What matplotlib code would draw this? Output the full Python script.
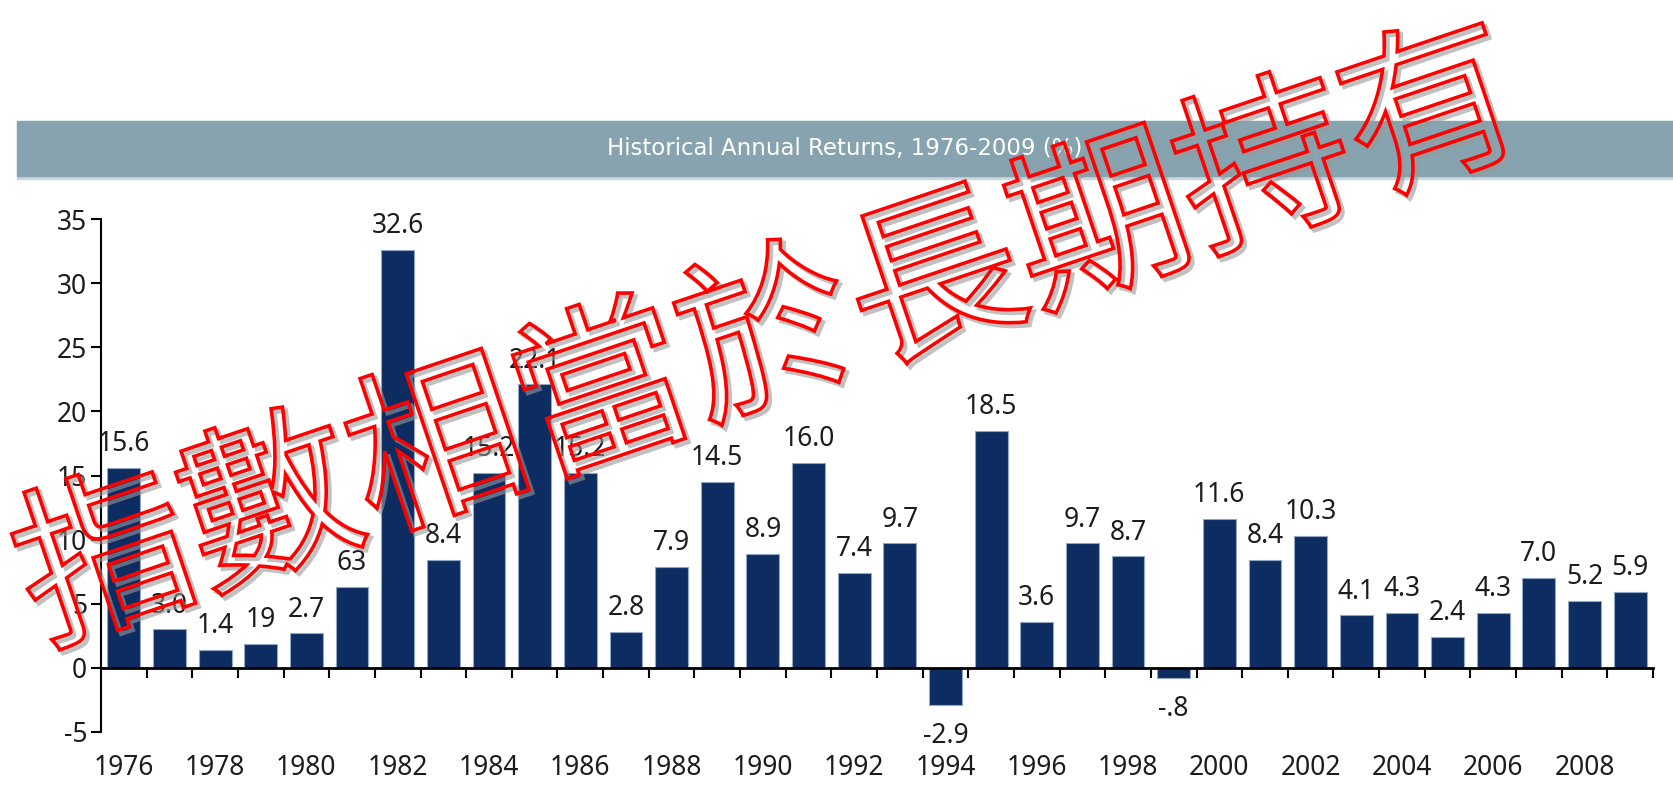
import numpy as np
import matplotlib
matplotlib.use("Agg")
import matplotlib.pyplot as plt
import matplotlib.patheffects as pe
from matplotlib.patches import Rectangle

plt.rcParams['axes.unicode_minus'] = False
plt.rcParams['font.family'] = ['Noto Sans', 'DejaVu Sans']

# data
years = list(range(1976, 2010))
returns = [15.6, 3.0, 1.4, 1.9, 2.7, 6.3, 32.6, 8.4, 15.2, 22.1,
           15.2, 2.8, 7.9, 14.5, 8.9, 16.0, 7.4, 9.7, -2.9, 18.5,
           3.6, 9.7, 8.7, -0.8, 11.6, 8.4, 10.3, 4.1, 4.3, 2.4,
           4.3, 7.0, 5.2, 5.9]
value_labels = ['15.6', '3.0', '1.4', '19', '2.7', '63', '32.6', '8.4', '15.2', '22.1',
                '15.2', '2.8', '7.9', '14.5', '8.9', '16.0', '7.4', '9.7', '-2.9', '18.5',
                '3.6', '9.7', '8.7', '-.8', '11.6', '8.4', '10.3', '4.1', '4.3', '2.4',
                '4.3', '7.0', '5.2', '5.9']
year_labels = [str(y) for y in years[::2]]
yticks = [-5, 0, 5, 10, 15, 20, 25, 30, 35]
title = "Historical Annual Returns, 1976-2009 (%)"
watermark = "指數相當於長期持有"

navy = '#0d2d62'
txt = '#1c1c1c'

fig = plt.figure(figsize=(16.73, 7.85), dpi=100)

# title band
fig.patches.append(Rectangle((17 / 1673, 1 - 179 / 785), 1, 4 / 785,
                             transform=fig.transFigure, color='#c9d6dc', zorder=0))
fig.patches.append(Rectangle((17 / 1673, 1 - 176 / 785), 1, 55 / 785,
                             transform=fig.transFigure, color='#86a3af', zorder=1))
fig.text(0.505, 1 - 149 / 785, title, color='white', fontsize=16.5,
         ha='center', va='center', family='DejaVu Sans')

ax = fig.add_axes([101 / 1673, 1 - 732 / 785, (1653 - 101) / 1673, (732 - 219) / 785])
x = np.arange(len(years))
ax.bar(x, returns, width=0.72, color=navy, edgecolor='#8fa6c4', linewidth=0.8, zorder=2)

for xi, v, lab in zip(x, returns, value_labels):
    if v >= 0:
        ax.annotate(lab, (xi, v), xytext=(0, 7), textcoords='offset points',
                    ha='center', va='bottom', fontsize=19, color=txt)
    else:
        ax.annotate(lab, (xi, v), xytext=(0, -12), textcoords='offset points',
                    ha='center', va='top', fontsize=19, color=txt)

ax.set_xlim(-0.5, len(years) - 0.5)
ax.set_ylim(-5, 35)
ax.set_yticks(yticks)
ax.tick_params(axis='y', labelsize=19, labelcolor=txt, length=7, width=1.5, direction='out', pad=3)
ax.set_xticks(np.arange(0.5, len(years), 1))
ax.set_xticklabels([])
ax.tick_params(axis='x', length=7, width=1.5, direction='out')
ax.spines['bottom'].set_position(('data', 0))
ax.spines['bottom'].set_linewidth(2)
ax.spines['left'].set_linewidth(1.5)
ax.spines['top'].set_visible(False)
ax.spines['right'].set_visible(False)

trans = ax.get_xaxis_transform()
for xi, lab in zip(x[::2], year_labels):
    ax.text(xi, -0.07, lab, transform=trans, ha='center', va='center',
            fontsize=19, color=txt)

# outlined watermark over everything
fig.text(770 / 1673, 1 - 342 / 785, watermark, fontsize=126, rotation=18.7,
         rotation_mode='anchor', ha='center', va='center', color='none',
         family=['Noto Sans CJK TC', 'DejaVu Sans'], weight='medium', zorder=10,
         path_effects=[pe.PathPatchEffect(offset=(2.5, -2.5), edgecolor='#999999',
                                          facecolor='none', linewidth=3, alpha=0.6),
                       pe.PathPatchEffect(edgecolor='#ff0000', facecolor='none',
                                          linewidth=2.6)])

fig.savefig('out.png', dpi=100)
